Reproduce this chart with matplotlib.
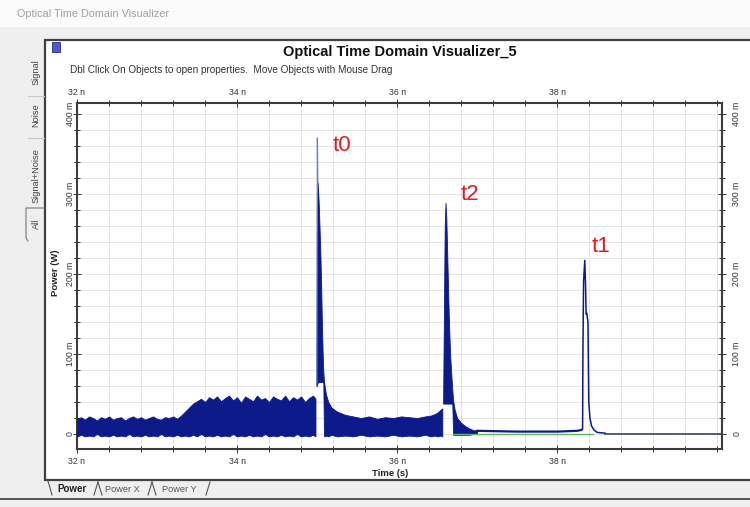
import matplotlib
matplotlib.use("Agg")
import matplotlib.pyplot as plt
import matplotlib.transforms as mtransforms
from matplotlib.patches import Rectangle
from matplotlib.lines import Line2D
from matplotlib.ticker import MultipleLocator, FuncFormatter

plt.rcParams['font.family'] = ['Liberation Sans', 'DejaVu Sans']

# ---------------- data (power in mW, time in ns) ----------------
band1_t = [32.00, 32.05, 32.10, 32.15, 32.20, 32.25, 32.30, 32.35, 32.40, 32.45,
           32.50, 32.55, 32.60, 32.65, 32.70, 32.75, 32.80, 32.85, 32.90, 32.95,
           33.00, 33.05, 33.10, 33.15, 33.20, 33.25, 33.30, 33.35, 33.40, 33.45,
           33.50, 33.55, 33.60, 33.65, 33.70, 33.75, 33.80, 33.85, 33.90, 33.95,
           34.00, 34.05, 34.10, 34.15, 34.20, 34.25, 34.30, 34.35, 34.40, 34.45,
           34.50, 34.55, 34.60, 34.65, 34.70, 34.75, 34.80, 34.85, 34.90, 34.95,
           34.98]
band1_hi = [19, 21, 18, 22, 20, 17, 21, 19, 22, 18,
            20, 21, 17, 20, 22, 19, 21, 18, 20, 22,
            19, 18, 21, 20, 22, 19, 23, 28, 33, 38,
            41, 44, 40, 46, 43, 47, 41, 45, 48, 42,
            46, 39, 47, 44, 41, 48, 43, 45, 40, 47,
            44, 42, 48, 41, 46, 43, 47, 40, 45, 48,
            44]
band1_lo = [-3, -1, -3, -2, -3, 0, -3, -2, -3, -1,
            -3, -2, -3, 0, -3, -2, -3, -1, -3, -2,
            -3, 0, -3, -2, -3, -1, -3, -2, -3, -1,
            -3, 0, -3, -2, -3, -1, -3, -2, -3, 0,
            -3, -2, -3, -1, -3, -2, -3, 0, -3, -2,
            -3, -1, -3, -2, -3, 0, -3, -2, -3, -1,
            -3]

# t0 pulse with its tail and the noise band that follows up to t2
seg2_t = [34.995, 35.000, 35.008, 35.020, 35.030, 35.040, 35.050, 35.060, 35.070,
          35.078, 35.086, 35.095, 35.110, 35.140, 35.180, 35.250, 35.350,
          35.450, 35.550, 35.650, 35.750, 35.850, 35.950, 36.050, 36.150, 36.250,
          36.350, 36.420, 36.470, 36.510, 36.540, 36.565]
seg2_hi = [60, 280, 314, 290, 260, 230, 190, 140, 100,
           78, 66, 60, 50, 40, 33, 28, 24,
           22, 20, 22, 19, 21, 20, 22, 21, 20,
           22, 23, 25, 27, 30, 32]
seg2_lo = [60, 62, 64, 65, 65, 65, 65, 65, 65,
           64, -2, -3, -2, -3, -1, -3, -2,
           -3, -1, -3, -2, -3, -1, -3, -2, -3,
           -1, -3, -2, -3, -2, -3]

t0_peak_t = [34.995, 35.004, 35.009]
t0_peak_v = [60, 370, 312]

# t2 pulse
t2_t = [36.575, 36.585, 36.595, 36.605, 36.615, 36.625, 36.635, 36.645, 36.655,
        36.665, 36.680, 36.690, 36.700, 36.720, 36.750, 36.800, 36.850, 36.900,
        36.950, 37.000]
t2_hi = [40, 150, 260, 289, 270, 230, 190, 150, 120,
         95, 70, 55, 42, 30, 20, 14, 10, 7,
         5, 4]
t2_lo = [38, 38, 38, 38, 38, 38, 38, 38, 38,
         38, 38, 37, -1, -1, -1, -1, -1, -1,
         0, 0]

base_t = [37.00, 37.50, 38.00, 38.25, 38.30]
base_v = [4, 3, 3, 4, 5]

green_t = [36.70, 38.45]
green_v = [0, 0]

# t1 pulse
t1_t = [38.300, 38.318, 38.322, 38.330, 38.345, 38.355, 38.362, 38.370, 38.385,
        38.390, 38.395, 38.410, 38.430, 38.460, 38.500, 38.600]
t1_v = [5, 6, 100, 190, 217, 185, 150, 151, 140,
        90, 40, 20, 10, 5, 2, 1]

tail_t = [38.60, 40.10]
tail_v = [0.5, 0.5]

peak_labels = ['t0', 't2', 't1']
label_t = [35.31, 36.91, 38.55]
label_v = [361, 299, 234]

x_ticks = [32, 34, 36, 38]
y_ticks = [0, 100, 200, 300, 400]

# ---------------- figure ----------------
W, H = 750, 507
fig = plt.figure(figsize=(W / 100, H / 100), dpi=100, facecolor='#efefef')

def fx(x):
    return x / W

def fy(y):
    return 1 - y / H

# top strip
fig.patches.append(Rectangle((0, fy(27)), 1, 27 / H, transform=fig.transFigure,
                             facecolor='#fbfbfb', edgecolor='none', zorder=0))
fig.text(fx(17), fy(14), 'Optical Time Domain Visualizer', fontsize=7.8,
         color='#a0a0a0', va='center', ha='left')

# white panel
fig.patches.append(Rectangle((fx(45), fy(480)), fx(760) - fx(45), (480 - 40) / H,
                             transform=fig.transFigure, facecolor='white',
                             edgecolor='#404040', linewidth=1.6, zorder=0))
# icon
fig.patches.append(Rectangle((fx(52), fy(52)), 8 / W, 10 / H, transform=fig.transFigure,
                             facecolor='#4a5bc8', edgecolor='#2a2a80', linewidth=0.6, zorder=1))

fig.text(fx(400), fy(52), 'Optical Time Domain Visualizer_5', fontsize=10.5,
         fontweight='bold', ha='center', va='center', color='#111111')
fig.text(fx(70), fy(70), 'Dbl Click On Objects to open properties.  Move Objects with Mouse Drag',
         fontsize=7.2, ha='left', va='center', color='#333333')

# left vertical tabs
for txt, yc in [('Signal', 72), ('Noise', 115), ('Signal+Noise', 176), ('All', 224)]:
    fig.text(fx(36), fy(yc), txt, rotation=90, fontsize=6.7, ha='center', va='center',
             color='#444444')
for y in [96, 138]:
    fig.add_artist(Line2D([fx(28), fx(44)], [fy(y), fy(y)], transform=fig.transFigure,
                          color='#c8c8c8', lw=0.8))
fig.add_artist(Line2D([fx(44), fx(26), fx(26), fx(28)], [fy(208), fy(208), fy(238), fy(241)],
                      transform=fig.transFigure, color='#777777', lw=0.8))

# bottom tabs
fig.add_artist(Line2D([fx(45), 1], [fy(480), fy(480)], transform=fig.transFigure,
                      color='#444444', lw=1.2))
fig.add_artist(Line2D([0.0, 1], [fy(499), fy(499)], transform=fig.transFigure,
                      color='#555555', lw=1.4))
fig.text(fx(57), fy(489), 'Power', fontsize=7, fontweight='bold', ha='left', va='center',
         color='#222222')
fig.text(fx(105), fy(489), 'Power X', fontsize=6.6, ha='left', va='center', color='#555555')
fig.text(fx(162), fy(489), 'Power Y', fontsize=6.6, ha='left', va='center', color='#555555')
for (x0, y0, x1, y1) in [(48, 481, 52, 495), (94, 495, 98, 482), (98, 482, 102, 495),
                         (148, 495, 152, 482), (152, 482, 156, 495), (206, 495, 210, 482)]:
    fig.add_artist(Line2D([fx(x0), fx(x1)], [fy(y0), fy(y1)], transform=fig.transFigure,
                          color='#555555', lw=0.8))

# ---------------- plot axes ----------------
ax = fig.add_axes([fx(77), fy(449), (722 - 77) / W, (449 - 103) / H])
ax.set_zorder(5)
ax.set_facecolor('white')
ax.set_xlim(32, 40.06)
ax.set_ylim(-18.75, 413.75)

navy = '#0c1a8a'
ax.fill_between(band1_t, band1_lo, band1_hi, color=navy, lw=0.6, edgecolor=navy, zorder=3)
ax.fill_between(seg2_t, seg2_lo, seg2_hi, color=navy, lw=0.6, edgecolor=navy, zorder=3)
ax.plot(t0_peak_t, t0_peak_v, color='#7080b8', lw=0.9, zorder=4)
ax.fill_between(t2_t, t2_lo, t2_hi, color=navy, lw=0.6, edgecolor=navy, zorder=3)
ax.plot(green_t, green_v, color='#5cb85c', lw=1.0, zorder=3)
ax.plot(base_t, base_v, color=navy, lw=1.6, zorder=4)
ax.plot(t1_t, t1_v, color=navy, lw=1.1, zorder=4)
ax.plot(tail_t, tail_v, color='#3a3f7a', lw=1.2, zorder=4)

for lab, t, v in zip(peak_labels, label_t, label_v):
    ax.text(t, v, lab, color='#e41a1c', fontsize=16, ha='center', va='center', zorder=5)

# ticks
ax.set_xticks(x_ticks)
ax.xaxis.set_minor_locator(MultipleLocator(0.4))
ax.set_yticks(y_ticks)
ax.yaxis.set_minor_locator(MultipleLocator(20))
ax.xaxis.set_major_formatter(FuncFormatter(lambda v, p: f'{int(round(v))} n'))
ax.yaxis.set_major_formatter(FuncFormatter(lambda v, p: '0' if abs(v) < 1e-9 else f'{int(round(v))} m'))
ax.tick_params(which='both', direction='inout', top=True, right=True,
               labeltop=True, labelright=True, colors='#333333', labelsize=6.3,
               width=0.7)
ax.tick_params(axis='x', pad=3)
ax.tick_params(axis='y', pad=1.5)
ax.tick_params(which='major', length=6)
ax.tick_params(which='minor', length=4)

# fine position shifts of tick labels (in pixels)
shift_right = mtransforms.ScaledTranslation(4 / 100, 0, fig.dpi_scale_trans)
shift_down = mtransforms.ScaledTranslation(0, -2 / 100, fig.dpi_scale_trans)
for tk in ax.yaxis.get_major_ticks():
    for lbl in (tk.label1, tk.label2):
        lbl.set_rotation(90)
        lbl.set_va('center')
        lbl.set_transform(lbl.get_transform() + shift_right)
for tk in ax.xaxis.get_major_ticks():
    tk.label2.set_transform(tk.label2.get_transform() + shift_down)

ax.grid(True, which='both', color='#e0e0e0', lw=0.6, zorder=0)
ax.set_axisbelow(True)
for side, sp in ax.spines.items():
    sp.set_color('#3c3c3c')
    sp.set_linewidth(1.5)

ax.set_xlabel('Time (s)', fontsize=6.8, fontweight='bold', color='#222222')
ax.xaxis.set_label_coords(0.485, -0.057)
ax.set_ylabel('Power (W)', fontsize=6.8, fontweight='bold', color='#222222')
ax.yaxis.set_label_coords(-0.026, 0.51)

fig.savefig('out.png', dpi=100, facecolor=fig.get_facecolor())
